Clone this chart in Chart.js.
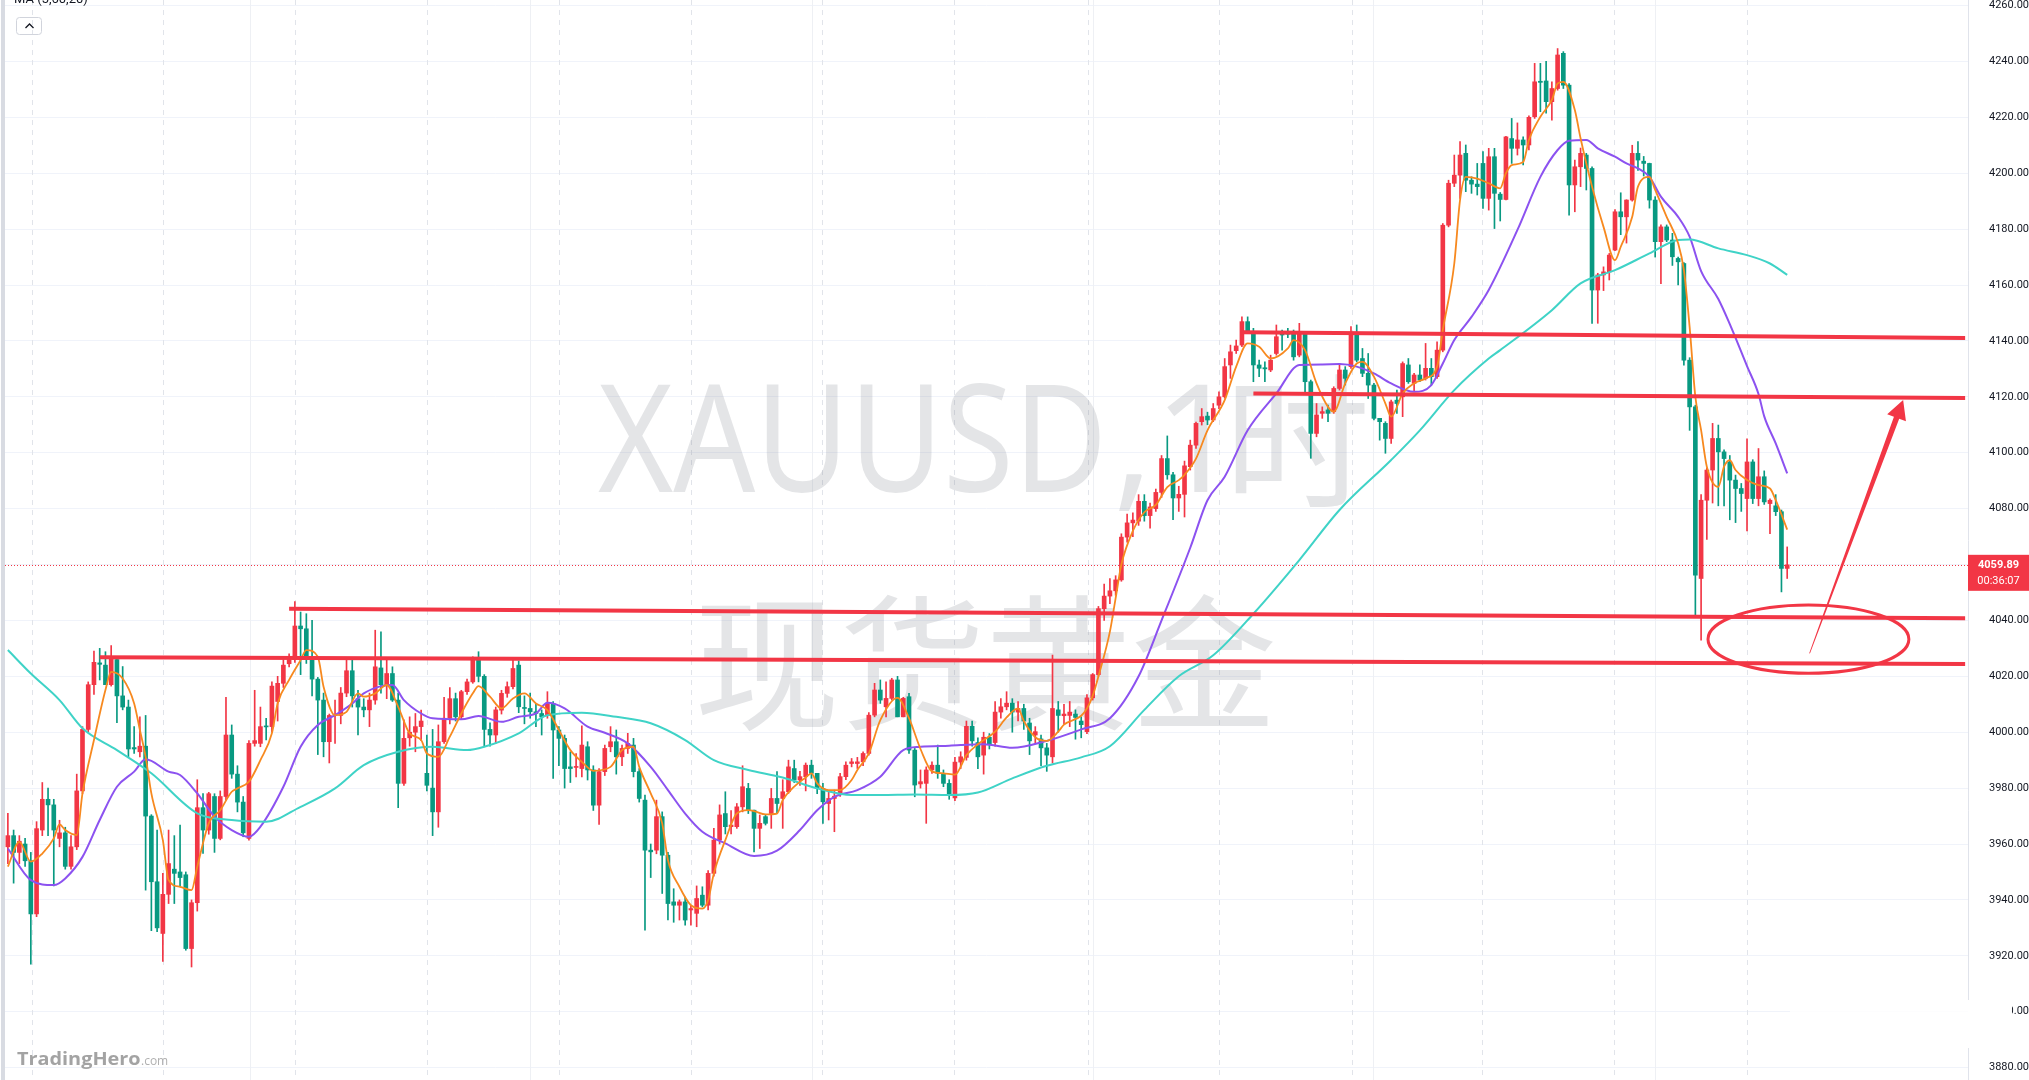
<!DOCTYPE html>
<html lang="zh">
<head>
<meta charset="UTF-8">
<title>XAUUSD 1时</title>
<script src="https://cdn.jsdelivr.net/npm/chart.js"></script>
<style>
  html, body { margin: 0; padding: 0; background: #fff; overflow: hidden; }
  #wrap { width: 2029px; height: 1080px; }
</style>
</head>
<body>
<div id="wrap"><canvas id="chart" width="2029" height="1080"></canvas></div>
<script>
// hourly candles, [open, high, low, close]
const candles = [
  [3959,3971,3953,3963],[3963,3965,3946,3957],[3957,3963,3953,3961],[3960,3962,3952,3954],[3954,3957,3917,3935],
  [3935,3968,3934,3965.5],[3965,3982,3963,3976],[3976,3980,3963,3974],[3974,3976,3945,3965],[3962,3968.5,3959,3964],
  [3964,3966,3951,3952],[3952,3963,3951,3959],[3959,3985,3958,3979],[3979,4002,3978,4001],[4001,4018,4000,4017],
  [4017,4029,4013.5,4025],[4024.8,4030,4018.7,4024.3],[4024,4028.8,4017,4017],[4017,4031,4016.5,4027],[4026,4026.6,4003.4,4013],
  [4013,4023.5,4008,4009],[4009,4011.5,3991.2,3994],[3994.5,4002,3992.4,3994],[3993,4005.5,3991.2,3995],[3995,4006,3943.5,3970],
  [3970,3970.5,3929,3946.5],[3946.5,3965,3928.6,3930],[3928,3949.5,3918,3942],[3942,3965,3938.7,3953],[3951,3963,3938.7,3949.5],
  [3950,3966.8,3944.7,3948],[3949,3950,3922,3922.6],[3922.6,3940,3916,3939],[3939,3983,3936,3973],[3973,3978,3956.6,3965],
  [3965,3978.5,3963.5,3978],[3977,3978,3957,3962],[3962,3979,3961.5,3977],[3977,4012.5,3975.7,3999],[3999,4002.6,3983.5,3985],
  [3985,3988,3971.5,3975],[3975,3977,3962.6,3964],[3962,3997,3961.4,3996],[3996,4015,3995,3997],[3996,4009,3994.8,4002],
  [4002.2,4005,3997.2,4001.9],[4002,4018,4000,4016.5],[4011,4020,4004,4017.5],[4017.5,4026,4016,4024],[4024.5,4028,4023.4,4026],
  [4026,4046.7,4025,4038],[4038,4043,4020.6,4037],[4037,4042.4,4024.6,4026],[4026,4040,4013,4019],[4019,4019.6,3992,4011.5],
  [4011.5,4014,3991.2,3996.6],[3996.6,4006.5,3989,4006],[4006,4011.5,3996,4006.4],[4006,4016,4003,4014],[4014,4026,4012.7,4022],
  [4022,4026,4009,4013],[4012,4015,3999,4009],[4009,4012,4005.5,4008],[4008,4014,4002,4011.5],[4011.5,4036.5,4010,4023.4],
  [4023,4035.9,4014,4017],[4017,4026,4012,4021],[4021,4023.4,4011,4011.5],[4011.5,4014,3973,3981.7],[3981.7,4004.4,3981,3997.8],
  [3998,4005.5,3995,4000],[4000,4006.7,3993,4002],[4002,4007.9,3997,4004],[3985.3,3999,3979,3981],[3980,4001,3963,3971.5],
  [3971.5,4002.6,3966,3996.6],[3996.6,4012.5,3996,4005],[4005,4016,4003,4012],[4012,4014,4004,4005.5],[4005.5,4015,4004.5,4014.5],
  [4014.5,4019,4013.5,4018],[4018,4027,4017.5,4026.4],[4026.4,4028.8,4018,4020],[4020,4020.6,3994.8,4001],[4001,4003.4,3995,3999],
  [3999,4009,3996,4008],[4007.9,4015,4006.5,4013.9],[4013.9,4018,4012.5,4016.3],[4016.3,4026,4015.5,4022.8],[4024,4025.5,4007,4009.1],
  [4008.8,4013,4003,4008.5],[4008.5,4014,4005,4007.3],[4007.3,4010,4002,4006.7],[4006.7,4008,3999,4005.5],[4006.1,4014.5,4005,4010.3],
  [4010.3,4011,3983.5,4000.8],[4000.8,4002,3988,3997.8],[3997.8,3999,3980,3987],[3987.6,3993,3982,3987],[3987.4,3992.4,3984,3987.6],
  [3987,4002.3,3984,3995.4],[3994.8,3996.6,3982.9,3986.5],[3986.5,3988,3972,3973.9],[3973.9,3987,3967,3985.9],[3985.9,3995.4,3984.5,3994.2],
  [3994.8,4002,3993,3996.6],[3996.6,4000.8,3985,3991.2],[3991.2,3995.4,3988,3994.2],[3994.2,3999.6,3992.4,3996],[3995.4,3997.8,3984,3985.9],
  [3985.9,3987,3975,3976.3],[3975.7,3977.5,3929.2,3957.8],[3957.8,3960,3948,3957.2],[3957.8,3975.7,3956.5,3969.8],[3969.8,3971.5,3942.3,3956],
  [3956,3957,3932.8,3938.7],[3939.3,3944,3932,3938.1],[3938.1,3940,3932.8,3939.3],[3939.3,3941,3931,3932.8],[3936.4,3938,3931,3936.9],
  [3935.2,3945,3930.4,3940.5],[3941.7,3944.7,3937.5,3938.1],[3938.1,3950.5,3936.4,3949.5],[3949.5,3965.6,3948.5,3961.4],[3961.4,3974,3960,3970.4],
  [3970.9,3978.7,3963.6,3966.2],[3966.2,3972,3963.6,3966.8],[3966.2,3974.5,3965.6,3973.3],[3973.3,3988,3971.5,3980.5],[3979.9,3981.7,3970.9,3972.1],
  [3972.1,3972.1,3957.2,3965.6],[3965.6,3970.4,3958.4,3967.4],[3969.8,3970.4,3966.8,3967.4],[3970.9,3979.9,3965.6,3976.3],[3976.3,3985.9,3970.9,3974.5],
  [3976.3,3983,3965.6,3978.7],[3978.7,3990,3978.1,3987.6],[3987,3990,3982,3982.9],[3982.9,3986,3981,3984.1],[3984.1,3989,3979,3988.2],
  [3988.2,3990,3983.5,3985.3],[3985.3,3985.3,3978,3979.9],[3979.9,3981.7,3967.4,3975.1],[3974.5,3978.7,3968.6,3976.3],[3976.3,3979.3,3964.4,3977.1],
  [3978.1,3985.3,3977,3984.1],[3984.1,3989.4,3983,3988.2],[3988.8,3990.6,3987.6,3989.4],[3988.8,3991,3987,3989.4],[3989.4,3993,3988,3992.4],
  [3992.4,4007,3991.8,4006.1],[4006.1,4017.5,4005.5,4015.1],[4015.1,4018.7,4010.3,4011.5],[4009.1,4018,4005.5,4012.1],[4012.1,4019.3,4011.5,4018.7],
  [4018.7,4020,4005.5,4005.5],[4005.5,4012.5,4005.5,4012.1],[4012.7,4013.9,3992.4,3993.6],[3993.6,3994.2,3976.9,3981.1],[3981.5,3986.5,3980,3982.3],
  [3981.7,3987.6,3967.4,3986.5],[3986.5,3989.4,3985.3,3988.2],[3988.2,3995.4,3983.5,3985.3],[3985.3,3986.5,3980.5,3981.7],[3981.7,3983,3976,3977.8],
  [3976.5,3991,3975.5,3989.3],[3989.3,3993,3987,3991.2],[3991,4004,3990,4002.1],[4002.1,4004,3995,3996.9],[3996.3,3998,3987,3991.2],
  [3991.8,4000,3985,3998.2],[3998.2,3999.5,3994,3995.7],[3996.3,4011,3995,4007.2],[4007.2,4012,4005,4009.1],[4009.1,4014.5,4008,4010.4],
  [4010.4,4012,4000,4007.2],[4007.2,4011,4004,4008.5],[4008.5,4010,4001,4004],[4003.3,4005,3992,3996.9],[3999,4002,3996,4000.2],
  [3997.6,3999,3988,3994.4],[3994.4,3996,3986,3991.8],[3991.2,4027.6,3989,4008.5],[4008,4011,4000,4006],[4005.9,4010,4003,4006.5],
  [4006,4011,4002,4007.2],[4006.5,4008,3997.5,4005.3],[4004,4005.5,3998,4002.7],[4000.2,4013.5,3999.5,4012.3],[4012.3,4021,4011.5,4020.6],
  [4020.6,4045,4020,4044.2],[4044.2,4053,4040,4048.7],[4048.7,4055,4046,4050.6],[4050.6,4056,4049,4054.5],[4054.5,4071,4054,4069.8],
  [4069.8,4078,4068,4074.9],[4074.9,4078.5,4070,4075.9],[4075.5,4085,4074,4082.6],[4082.6,4085,4075.5,4077.5],[4077.5,4082,4073,4080.6],
  [4080,4087,4079,4085.8],[4085.8,4099,4084,4097.9],[4097.9,4106,4090.5,4092.1],[4092.1,4093,4076,4083.8],[4083.8,4088,4079,4085.1],
  [4085.1,4097,4077,4095.3],[4095,4104.5,4093.8,4102.7],[4102.7,4111,4101.5,4110.5],[4111.1,4115.8,4109.9,4112.9],[4113.1,4114.5,4110,4111.7],
  [4111.7,4117.6,4111.1,4115.8],[4117,4121.8,4115.8,4120],[4120,4133.7,4119.5,4130.8],[4131.4,4138.5,4126.6,4136.1],[4136.5,4140.3,4135.5,4138.2],
  [4138.5,4148.6,4137.9,4146.9],[4146.9,4148.6,4142.7,4143.3],[4142.7,4144.5,4125.4,4131.4],[4131.4,4133.1,4127.2,4130.2],[4130.4,4132.5,4125.4,4130],
  [4129.6,4134.9,4129,4133.1],[4135.5,4145.7,4134.9,4141.5],[4142.4,4143.9,4136.7,4142.1],[4142.6,4144.5,4141.2,4142.4],[4142.7,4143.9,4133.1,4134.3],
  [4134.9,4146.3,4134.3,4142.7],[4142.7,4143.3,4121.8,4125.4],[4125.4,4126,4098,4106.9],[4106.9,4117.6,4105.7,4113.5],[4114.1,4116.4,4112.3,4114.7],
  [4115.3,4117,4111.1,4114.1],[4114.7,4123.6,4114.1,4123],[4123,4131.9,4122.4,4129.6],[4129.6,4130.8,4124.2,4126.6],[4130.8,4145.1,4130.2,4142.1],
  [4142.1,4145.7,4132.5,4133.1],[4133.7,4137.3,4127.2,4128.4],[4128.4,4135.5,4119.4,4124.2],[4124.2,4124.8,4111.7,4112.3],[4112.3,4112.3,4104.5,4111.1],
  [4110.5,4111.1,4099.8,4105.1],[4105.1,4118.8,4103.3,4118.2],[4118.8,4122.4,4114.1,4117.6],[4120,4132.5,4112.9,4131.9],[4131.4,4133.7,4124.8,4125.4],
  [4124.8,4128.4,4121.8,4127.8],[4127.8,4131.4,4125.4,4126],[4126.6,4139.1,4126,4130.2],[4130.2,4133.7,4124.2,4127.2],[4127.2,4139.7,4126.6,4136.7],
  [4136.7,4182,4136.1,4181.4],[4181.4,4197.5,4180.8,4196.4],[4196.4,4206.5,4195.2,4199.3],[4199.3,4211.3,4191,4206.5],[4207.1,4210.1,4193.4,4197.5],
  [4197.5,4198.7,4192.8,4196.1],[4196.1,4203.5,4192.2,4195.2],[4203.5,4207.7,4187.4,4191],[4191,4208.9,4186.8,4205.9],[4205.9,4208.9,4180.2,4192.8],
  [4192.5,4193.1,4182.9,4190.6],[4190.6,4213.2,4190.4,4213],[4212.4,4219.6,4203.5,4208.9],[4208.9,4218,4206.5,4211.9],[4211.9,4213,4203,4210.1],
  [4210.1,4220.5,4208.3,4220],[4220.2,4239.3,4219.6,4232.7],[4232.9,4239.3,4222,4232.5],[4233,4240,4221.5,4225.6],[4225.6,4232.7,4219,4230.3],
  [4230.3,4244.6,4229.7,4242.3],[4242.9,4243.5,4230.3,4231.5],[4231.5,4232.1,4185,4195.8],[4195.8,4204.7,4186.2,4202.3],[4202.3,4209,4195.2,4207.1],
  [4206.5,4207.1,4194,4201.7],[4201.7,4202.3,4146.3,4158.2],[4158.2,4164.2,4146.3,4163.6],[4163.6,4166.5,4158,4164.7],[4164.7,4171.3,4161.8,4170.7],
  [4172.5,4187,4172.3,4186.2],[4186.2,4193,4178,4184.4],[4184.4,4190.5,4175,4190.4],[4190.4,4210,4190,4207.1],[4207.1,4211.3,4201,4204.7],
  [4204.3,4206,4199,4203.5],[4203.5,4203.6,4187.5,4190.4],[4190.4,4191.6,4170,4175.5],[4175.5,4181.5,4160.5,4180.8],[4180.8,4181.5,4175.5,4176.1],
  [4176.1,4178.5,4167,4170.1],[4169.5,4170,4160,4168.3],[4167.7,4168,4131.3,4133.1],[4133.1,4134,4108,4116.4],[4116.4,4117,4041.9,4056.2],
  [4055,4085,4032.9,4083],[4083,4094.5,4069,4093.8],[4093.8,4110.5,4082,4105.1],[4105.1,4109.9,4081,4100.3],[4100.3,4101,4081,4097.9],
  [4096.7,4099,4076,4090.2],[4090.2,4092,4075,4087.2],[4087.2,4089,4079,4085.4],[4083.6,4105,4072,4096.7],[4096.7,4097.5,4081.8,4083.6],
  [4083.6,4101.5,4081,4091.4],[4091.4,4093.5,4081.5,4082.4],[4081.8,4083.5,4071,4083],[4081,4085,4077.5,4078.9],[4078.9,4079.5,4050.2,4058.6],
  [4058.6,4066.3,4055,4059.89]
];

// moving averages, [bar index, value]
const ma5 = [
  [0,3951.9],[2,3960.8],[4,3953.7],[6,3956.6],[8,3962],[9,3967],[10,3965],[12,3963.2],[13,3978.1],[15,3997.2],
  [17,4015.1],[18,4021.6],[20,4019.2],[22,4010.3],[23,4000.8],[24,3991.2],[25,3978.1],[27,3961.4],[28,3947.1],[30,3944.7],
  [32,3943.5],[33,3951.9],[35,3967.4],[37,3972.1],[39,3978.7],[40,3979.9],[42,3982.3],[44,3990],[46,3999.6],[47,4010.3],
  [49,4018.7],[51,4025.8],[52,4029.4],[54,4027],[55,4016.3],[57,4006.1],[59,4007.3],[61,4013.9],[62,4012.7],[64,4013.9],
  [66,4016.9],[68,4009.1],[70,3999.6],[72,3997.2],[73,3992.4],[75,3991.2],[77,3998.4],[79,4006.7],[81,4013.9],[82,4016.5],
  [84,4012.7],[86,4008.5],[88,4012.1],[90,4013.9],[92,4010.3],[94,4007.9],[96,4000.8],[98,3993.6],[100,3989.4],[102,3986.2],
  [105,3987.6],[107,3993.6],[109,3994.8],[110,3987.6],[112,3978.1],[114,3967.4],[115,3954.3],[117,3944.7],[119,3938.1],[121,3936.9],
  [122,3939.9],[123,3949.5],[125,3961.4],[127,3970.9],[129,3972.1],[130,3971.8],[132,3970.6],[134,3970.9],[135,3975.7],[137,3980.5],
  [139,3983.8],[140,3985.3],[141,3981.7],[143,3979.3],[145,3979.3],[147,3982.9],[148,3986.5],[150,3992.4],[152,4004.3],[155,4012.3],
  [157,4005],[159,3994],[161,3986],[163,3985.3],[165,3984.8],[167,3991.8],[169,3995.7],[172,4000.2],[174,4005.3],[176,4008.5],
  [177,4004],[179,3998.2],[181,3996.9],[183,4000.2],[184,4002.7],[187,4005.9],[188,4008.5],[189,4013],[190,4020],[192,4036],
  [193,4048],[194,4060],[196,4072],[198,4078.7],[200,4081.3],[202,4087.7],[204,4090.2],[205,4092.1],[207,4097.9],[209,4108],
  [212,4118.8],[214,4130.8],[216,4139.1],[218,4137.9],[220,4133.7],[223,4137.3],[224,4140.3],[226,4136.7],[228,4124.8],[230,4116.4],
  [231,4114.7],[233,4124.8],[235,4131.9],[236,4132.5],[238,4127.2],[240,4117.6],[241,4112.9],[243,4121.2],[245,4124.8],[247,4126.6],
  [249,4130.8],[250,4143.9],[252,4167.7],[253,4190.4],[254,4198.7],[256,4198.1],[258,4196.4],[260,4194.6],[261,4200],[262,4202.9],
  [264,4204],[265,4211.9],[267,4220.2],[269,4226.2],[270,4232.1],[271,4232.7],[273,4222.6],[274,4212.5],[276,4195.2],[278,4180.8],
  [280,4168.9],[281,4173.7],[283,4184.4],[284,4195.2],[286,4198.7],[287,4194],[289,4184.4],[291,4174.9],[292,4165.3],[293,4145],
  [294,4120],[295,4108.1],[296,4095],[298,4087.8],[299,4095],[300,4097.3],[301,4093.8],[303,4090.2],[305,4088.4],[307,4087.2],
  [308,4083],[310,4072.5]
];
const ma20 = [
  [0,3958.4],[4,3947.1],[8,3945.3],[10,3947.7],[13,3955.4],[16,3968.6],[19,3980.5],[22,3985.9],[24,3990.3],[28,3985.9],
  [30,3984.7],[33,3978.1],[36,3969.8],[39,3965],[42,3962.6],[44,3966.2],[48,3980.5],[51,3994.8],[54,4002.6],[57,4006.1],
  [60,4010.3],[62,4013.9],[65,4016.5],[67,4016.9],[69,4011.5],[72,4006.7],[74,4005],[79,4004.6],[82,4005.8],[86,4003.7],
  [89,4005.5],[92,4006.7],[94,4010.5],[97,4008.5],[101,4002],[104,3999.8],[108,3996],[112,3987.6],[115,3979.3],[118,3970.9],
  [121,3964.4],[125,3960.2],[130,3955.7],[134,3957.6],[138,3965],[141,3972.1],[144,3976.9],[148,3979.3],[152,3984.1],[156,3993.6],
  [159,3994.8],[164,3995.2],[170,3995.7],[175,3994.4],[181,3996.9],[187,4001],[192,4005],[197,4020],[201,4040],[206,4066],
  [209,4083],[212,4091.4],[216,4108],[221,4121.2],[225,4131.4],[229,4131.6],[232,4131.7],[235,4130.8],[238,4128.4],[241,4124.8],
  [245,4121.8],[248,4124.2],[250,4131.9],[252,4140.3],[255,4148.6],[258,4158.2],[263,4179.7],[267,4198.7],[270,4208.3],[272,4211.6],
  [275,4211.9],[277,4208.9],[280,4205.9],[282,4203.5],[284,4201.7],[286,4198.7],[288,4191.6],[291,4184.4],[293,4177.3],[295,4165],
  [298,4155],[300,4146],[303,4131],[305,4121],[306,4113],[308,4103.3],[310,4092.6]
];
const ma60 = [
  [0,4029.4],[4,4021],[9,4011.5],[13,4001.4],[19,3993.6],[25,3985.3],[33,3971],[39,3968.6],[45,3968],[51,3973.3],
  [57,3979.9],[62,3988.2],[68,3993],[74,3994.8],[80,3993.6],[83,3994.8],[89,3999.6],[94,4006.1],[100,4007],[106,4005.5],
  [112,4003.2],[118,3997.2],[123,3990],[129,3986.5],[135,3983.8],[141,3979.9],[147,3977.5],[152,3977.5],[158,3977.7],[164,3977.5],
  [169,3978.4],[175,3983.5],[181,3988],[187,3991],[192,3995],[198,4008],[204,4020],[210,4027.5],[217,4042.4],[225,4061.6],
  [232,4079.5],[241,4097.4],[246,4108],[252,4122.4],[258,4133.7],[260,4136.7],[269,4151],[274,4160.6],[280,4165.3],[286,4171.3],
  [291,4176.1],[293,4176.3],[298,4173.1],[303,4170.7],[307,4167.7],[310,4163.6]
];

// hand-drawn levels: [start bar, start price, end bar, end price]
const levels = [
  [16, 4026.8, 341, 4024.4],
  [49, 4044.2, 341, 4040.8],
  [217, 4121.2, 341, 4119.6],
  [215, 4143.1, 341, 4141.0]
];
const target = { bar: 313.7, price: 4033.3, halfBars: 17.5, halfPrice: 12.2 };
const arrow = { from: [313.9, 4028.2], to: [330.2, 4118.9] };

const lastPrice = 4059.89;
const countdown = '00:36:07';
const slotCount = 342;           // bars plus the empty space to the right
const sessionBreaks = [4.2, 27.0, 50.0, 73.0, 96.0, 119.0, 141.8, 164.8, 188.2, 211.0, 234.2, 256.8, 279.8, 303.0];
const timeGrid = [42.2, 91.0, 140.1, 189.1, 237.8, 287.0];
const yMin = 3875.57, yMax = 4261.97;

const UP = '#f23645', DOWN = '#089981';
const labels = Array.from({ length: slotCount }, (_, i) => i);

function spread(points) {
  const arr = new Array(slotCount).fill(null);
  points.forEach(([i, v]) => { arr[i] = v; });
  return arr;
}

const candleColors = candles.map(c => c[3] >= c[0] ? UP : DOWN);

const datasets = [
  { type: 'bar', data: candles.map(c => [Math.min(c[0], c[3]), Math.max(c[0], c[3])]),
    backgroundColor: candleColors, barThickness: 4, minBarLength: 1, grouped: false, order: 3 },
  { type: 'bar', data: candles.map(c => [c[2], c[1]]),
    backgroundColor: candleColors, barThickness: 1, grouped: false, order: 4 },
  { type: 'line', data: spread(ma60), borderColor: '#3fd3c7', borderWidth: 2, pointRadius: 0,
    spanGaps: true, cubicInterpolationMode: 'monotone', order: 2 },
  { type: 'line', data: spread(ma20), borderColor: '#8c52f0', borderWidth: 2, pointRadius: 0,
    spanGaps: true, cubicInterpolationMode: 'monotone', order: 2 },
  { type: 'line', data: spread(ma5), borderColor: '#f7891f', borderWidth: 1.8, pointRadius: 0,
    spanGaps: true, cubicInterpolationMode: 'monotone', order: 1 }
];
levels.forEach(l => {
  datasets.push({ type: 'line', data: spread([[l[0], l[1]], [l[2], l[3]]]), borderColor: UP, borderWidth: 4,
    pointRadius: 0, spanGaps: true, tension: 0, order: 0 });
});

function drawInk(ctx, text, left, baseline, width) {
  const m = ctx.measureText(text);
  const inkW = m.actualBoundingBoxLeft + m.actualBoundingBoxRight;
  const sx = width ? width / inkW : 1;
  ctx.save();
  ctx.translate(left, baseline);
  ctx.scale(sx, 1);
  ctx.fillText(text, m.actualBoundingBoxLeft, 0);
  ctx.restore();
}

const overlay = {
  id: 'overlay',
  beforeDraw(chart) {
    const { ctx } = chart;
    ctx.save();
    ctx.fillStyle = '#ffffff';
    ctx.fillRect(0, 0, chart.width, chart.height);
    ctx.fillStyle = '#d8dbe2';
    ctx.fillRect(1, 0, 4, chart.height);
    ctx.restore();
  },
  beforeDatasetsDraw(chart) {
    const { ctx, chartArea: a, scales: { x, y } } = chart;
    ctx.save();
    ctx.lineWidth = 1;
    ctx.strokeStyle = '#eef0f4';
    timeGrid.forEach(i => {
      const px = Math.round(x.getPixelForValue(i)) + 0.5;
      ctx.beginPath(); ctx.moveTo(px, a.top); ctx.lineTo(px, a.bottom); ctx.stroke();
    });
    ctx.setLineDash([5, 5]);
    ctx.strokeStyle = '#e1e4ea';
    sessionBreaks.forEach(i => {
      const px = Math.round(x.getPixelForValue(i)) + 0.5;
      ctx.beginPath(); ctx.moveTo(px, a.top); ctx.lineTo(px, a.bottom); ctx.stroke();
    });

    // watermark
    ctx.setLineDash([]);
    ctx.fillStyle = 'rgba(120,123,134,0.2)';
    ctx.textBaseline = 'alphabetic';
    ctx.font = '150px "Noto Sans"';
    drawInk(ctx, 'XAUUSD', 598, 492, 502);
    drawInk(ctx, ',', 1119, 492);
    drawInk(ctx, '1', 1167, 492);
    ctx.font = '146px "Noto Sans CJK SC"';
    drawInk(ctx, '时', 1235, 496);
    drawInk(ctx, '现货黄金', 700, 718, 573);

    // last price line
    const py = Math.round(y.getPixelForValue(lastPrice)) + 0.5;
    ctx.strokeStyle = UP;
    ctx.setLineDash([1, 2]);
    ctx.beginPath(); ctx.moveTo(a.left, py); ctx.lineTo(a.right, py); ctx.stroke();
    ctx.restore();
  },
  afterDatasetsDraw(chart) {
    const { ctx, scales: { x, y } } = chart;
    ctx.save();
    // circled zone
    const cx = x.getPixelForValue(target.bar), cy = y.getPixelForValue(target.price);
    const rx = x.getPixelForValue(target.bar + target.halfBars) - cx;
    const ry = y.getPixelForValue(target.price - target.halfPrice) - cy;
    ctx.strokeStyle = UP;
    ctx.lineWidth = 3;
    ctx.beginPath(); ctx.ellipse(cx, cy, rx, ry, 0, 0, Math.PI * 2); ctx.stroke();

    // arrow
    const tx = x.getPixelForValue(arrow.from[0]), ty = y.getPixelForValue(arrow.from[1]);
    const hx = x.getPixelForValue(arrow.to[0]), hy = y.getPixelForValue(arrow.to[1]);
    const len = Math.hypot(hx - tx, hy - ty);
    const dx = (hx - tx) / len, dy = (hy - ty) / len, nx = -dy, ny = dx;
    const bx = hx - dx * 19, by = hy - dy * 19;
    ctx.fillStyle = UP;
    ctx.beginPath();
    ctx.moveTo(tx + nx * 0.4, ty + ny * 0.4);
    ctx.lineTo(bx + nx * 2.8, by + ny * 2.8);
    ctx.lineTo(bx + nx * 10, by + ny * 10);
    ctx.lineTo(hx, hy);
    ctx.lineTo(bx - nx * 10, by - ny * 10);
    ctx.lineTo(bx - nx * 2.8, by - ny * 2.8);
    ctx.lineTo(tx - nx * 0.4, ty - ny * 0.4);
    ctx.closePath();
    ctx.fill();
    ctx.restore();
  },
  afterDraw(chart) {
    const { ctx, chartArea: a, scales: { y } } = chart;
    ctx.save();
    // price tag
    const py = y.getPixelForValue(lastPrice);
    ctx.fillStyle = UP;
    ctx.fillRect(a.right, py - 10, chart.width - a.right, 36);
    ctx.fillStyle = '#ffffff';
    ctx.textAlign = 'center';
    ctx.textBaseline = 'middle';
    ctx.font = 'bold 11px Roboto';
    ctx.fillText(lastPrice.toFixed(2), a.right + 30.5, py);
    ctx.font = '11px Roboto';
    ctx.fillText(countdown, a.right + 30.5, py + 16);

    // faded panel over the lower axis, leaves only the last digit of 3900.00
    ctx.fillStyle = 'rgba(255,255,255,0.82)';
    ctx.fillRect(1790, 1000, a.right - 1790, 48);
    ctx.fillStyle = '#ffffff';
    ctx.fillRect(a.right, 1000, 2012 - a.right, 48);

    // legend remnant and collapse button
    ctx.textAlign = 'left';
    ctx.textBaseline = 'alphabetic';
    ctx.fillStyle = '#131722';
    ctx.font = '13px Roboto';
    ctx.fillText('MA (5,60,20)', 14, 3);
    ctx.strokeStyle = '#d1d4dc';
    ctx.lineWidth = 1;
    ctx.beginPath(); ctx.roundRect(16.5, 17.5, 25, 17, 3); ctx.stroke();
    ctx.strokeStyle = '#131722';
    ctx.lineWidth = 1.3;
    ctx.beginPath(); ctx.moveTo(25.5, 28); ctx.lineTo(29.5, 24); ctx.lineTo(33.5, 28); ctx.stroke();

    // logo
    ctx.fillStyle = '#a3a3a3';
    ctx.font = 'bold 17px "Open Sans"';
    drawInk(ctx, 'TradingHero', 17, 1065, 123);
    ctx.fillStyle = '#b0b0b0';
    ctx.font = '12px "Open Sans"';
    ctx.fillText('.com', 141, 1065);
    ctx.restore();
  }
};

new Chart(document.getElementById('chart').getContext('2d'), {
  type: 'bar',
  data: { labels, datasets },
  options: {
    responsive: false,
    animation: false,
    events: [],
    layout: { padding: { left: 5, top: 0, right: 0, bottom: 0 } },
    plugins: { legend: { display: false }, tooltip: { enabled: false } },
    scales: {
      x: { display: false, offset: true, grid: { display: false } },
      y: {
        position: 'right',
        min: yMin,
        max: yMax,
        afterFit(scale) { scale.width = 61; scale.paddingTop = 0; scale.paddingBottom = 0; },
        border: { display: true, color: '#e0e3eb' },
        grid: { color: '#f0f3fa', drawTicks: false },
        ticks: {
          stepSize: 20, maxTicksLimit: 100, includeBounds: false, padding: 10, crossAlign: 'far',
          color: '#131722', font: { family: 'Roboto', size: 11 },
          callback: v => v.toFixed(2)
        }
      }
    }
  },
  plugins: [overlay]
});
</script>
</body>
</html>
